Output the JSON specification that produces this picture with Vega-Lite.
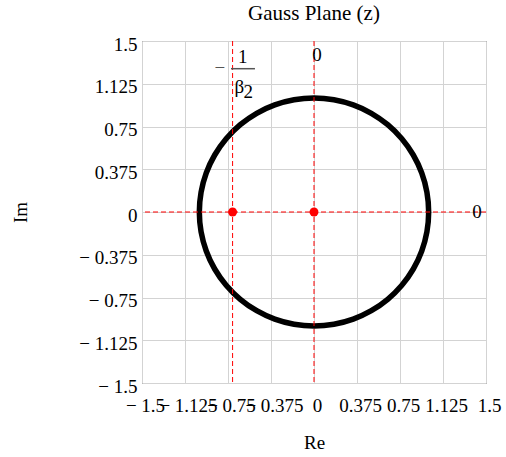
{
  "$schema": "https://vega.github.io/schema/vega-lite/v6.json",
  "width": 344,
  "height": 342,
  "autosize": {"type": "none"},
  "padding": {"left": 142, "top": 41, "right": 20, "bottom": 74},
  "background": "white",
  "title": {"text": "Gauss Plane (z)", "font": "Liberation Serif", "fontSize": 21, "fontWeight": "normal", "color": "black", "offset": 11, "anchor": "middle"},
  "config": {
    "view": {"stroke": "#444", "strokeWidth": 1},
    "axis": {"labelFont": "Liberation Serif", "titleFont": "Liberation Serif", "labelFontSize": 19, "titleFontSize": 19, "titleFontWeight": "normal", "labelColor": "black", "titleColor": "black", "ticks": false, "domain": false, "gridColor": "#d3d3d3", "gridWidth": 1, "labelFlush": false, "labelOverlap": false, "labelBound": false}
  },
  "datasets": {
    "circle": [
      {"t": 0, "re": 1, "im": 0}, {"t": 10, "re": 0.9848, "im": 0.1736}, {"t": 20, "re": 0.9397, "im": 0.342},
      {"t": 30, "re": 0.866, "im": 0.5}, {"t": 40, "re": 0.766, "im": 0.6428}, {"t": 50, "re": 0.6428, "im": 0.766},
      {"t": 60, "re": 0.5, "im": 0.866}, {"t": 70, "re": 0.342, "im": 0.9397}, {"t": 80, "re": 0.1736, "im": 0.9848},
      {"t": 90, "re": 0, "im": 1}, {"t": 100, "re": -0.1736, "im": 0.9848}, {"t": 110, "re": -0.342, "im": 0.9397},
      {"t": 120, "re": -0.5, "im": 0.866}, {"t": 130, "re": -0.6428, "im": 0.766}, {"t": 140, "re": -0.766, "im": 0.6428},
      {"t": 150, "re": -0.866, "im": 0.5}, {"t": 160, "re": -0.9397, "im": 0.342}, {"t": 170, "re": -0.9848, "im": 0.1736},
      {"t": 180, "re": -1, "im": 0}, {"t": 190, "re": -0.9848, "im": -0.1736}, {"t": 200, "re": -0.9397, "im": -0.342},
      {"t": 210, "re": -0.866, "im": -0.5}, {"t": 220, "re": -0.766, "im": -0.6428}, {"t": 230, "re": -0.6428, "im": -0.766},
      {"t": 240, "re": -0.5, "im": -0.866}, {"t": 250, "re": -0.342, "im": -0.9397}, {"t": 260, "re": -0.1736, "im": -0.9848},
      {"t": 270, "re": 0, "im": -1}, {"t": 280, "re": 0.1736, "im": -0.9848}, {"t": 290, "re": 0.342, "im": -0.9397},
      {"t": 300, "re": 0.5, "im": -0.866}, {"t": 310, "re": 0.6428, "im": -0.766}, {"t": 320, "re": 0.766, "im": -0.6428},
      {"t": 330, "re": 0.866, "im": -0.5}, {"t": 340, "re": 0.9397, "im": -0.342}, {"t": 350, "re": 0.9848, "im": -0.1736}
    ],
    "vlines": [{"re": -0.71}, {"re": 0}],
    "hlines": [{"im": 0}],
    "poles": [{"re": -0.71, "im": 0}, {"re": 0, "im": 0}],
    "labels": [
      {"re": 0.026, "im": 1.377, "txt": "0", "c": "black"},
      {"re": 1.421, "im": 0, "txt": "0", "c": "black"},
      {"re": -0.82, "im": 1.263, "txt": "−", "c": "#555"},
      {"re": -0.622, "im": 1.362, "txt": "1", "c": "black"},
      {"re": -0.651, "im": 1.099, "txt": "β", "c": "black"},
      {"re": -0.573, "im": 1.055, "txt": "2", "c": "black"}
    ],
    "bar": [{"re": -0.724, "re2": -0.515, "im": 1.257}]
  },
  "layer": [
    {
      "data": {"name": "circle"},
      "mark": {"type": "line", "color": "black", "strokeWidth": 5.5, "interpolate": "cardinal-closed"},
      "encoding": {
        "x": {"field": "re", "type": "quantitative", "scale": {"domain": [-1.5, 1.5], "nice": false, "zero": false},
          "axis": {"title": "Re", "values": [-1.5, -1.125, -0.75, -0.375, 0, 0.375, 0.75, 1.125, 1.5], "labelPadding": 13, "labelOffset": 3,
            "labelFont": "Liberation Serif", "labelFontSize": 19,
            "labelExpr": "datum.value < 0 ? '− ' + format(-datum.value, '~g') : format(datum.value, '~g')",
            "titleX": 172, "titleY": 59, "titleBaseline": "middle", "titleAlign": "center"}},
        "y": {"field": "im", "type": "quantitative", "scale": {"domain": [-1.5, 1.5], "nice": false, "zero": false},
          "axis": {"title": "Im", "values": [-1.5, -1.125, -0.75, -0.375, 0, 0.375, 0.75, 1.125, 1.5], "labelPadding": 5, "labelOffset": 3,
            "labelFont": "Liberation Serif", "labelFontSize": 19,
            "labelExpr": "datum.value < 0 ? '− ' + format(-datum.value, '~g') : format(datum.value, '~g')",
            "titleX": -122, "titleY": 171, "titleBaseline": "middle", "titleAlign": "center", "titleAngle": -90}},
        "order": {"field": "t", "type": "quantitative"}
      }
    },
    {
      "data": {"name": "vlines"},
      "mark": {"type": "rule", "color": "red", "strokeWidth": 1, "strokeDash": [5, 3]},
      "encoding": {"x": {"field": "re", "type": "quantitative"}}
    },
    {
      "data": {"name": "hlines"},
      "mark": {"type": "rule", "color": "red", "strokeWidth": 1, "strokeDash": [5, 3]},
      "encoding": {"y": {"field": "im", "type": "quantitative"}}
    },
    {
      "data": {"name": "poles"},
      "mark": {"type": "point", "filled": true, "color": "red", "size": 80, "opacity": 1},
      "encoding": {"x": {"field": "re", "type": "quantitative"}, "y": {"field": "im", "type": "quantitative"}}
    },
    {
      "data": {"name": "bar"},
      "mark": {"type": "rule", "color": "#555", "strokeWidth": 1.5},
      "encoding": {"x": {"field": "re", "type": "quantitative"}, "x2": {"field": "re2"}, "y": {"field": "im", "type": "quantitative"}}
    },
    {
      "data": {"name": "labels"},
      "mark": {"type": "text", "font": "Liberation Serif", "fontSize": 19, "align": "center", "baseline": "middle"},
      "encoding": {
        "x": {"field": "re", "type": "quantitative"},
        "y": {"field": "im", "type": "quantitative"},
        "text": {"field": "txt"},
        "color": {"field": "c", "type": "nominal", "scale": null}
      }
    }
  ]
}
